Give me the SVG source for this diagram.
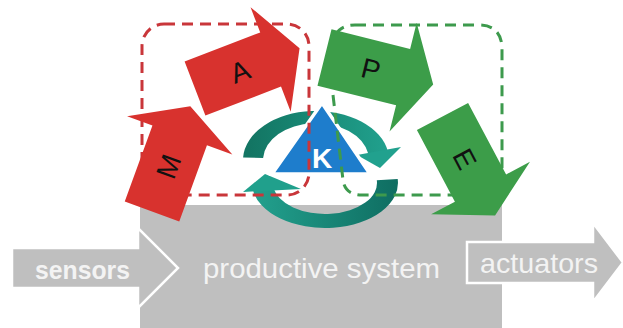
<svg xmlns="http://www.w3.org/2000/svg" width="623" height="328" viewBox="0 0 623 328">
<defs>
<style>
.box{fill:#bfbfbf}
.io{fill:#bfbfbf;stroke:#ffffff;stroke-width:2.5;stroke-linejoin:miter}
.iotxt{font-family:"Liberation Sans",Arial,sans-serif;fill:#f3f3f3}
.red{fill:#d8322e}
.green{fill:#3c9d49}
.lt{font-family:"Liberation Sans",Arial,sans-serif;font-size:28px;fill:#111111;text-anchor:middle}
.dash{fill:none;stroke-width:3;stroke-dasharray:11 7}
</style>
<path id="arr" d="M0,-29 H81 V-56 L112,0 L81,56 V29 H0 Z"/>
<linearGradient id="gU" gradientUnits="userSpaceOnUse" x1="250" y1="0" x2="395" y2="0">
<stop offset="0" stop-color="#137563"/><stop offset="0.45" stop-color="#188a76"/><stop offset="1" stop-color="#22a390"/>
</linearGradient>
<linearGradient id="gL" gradientUnits="userSpaceOnUse" x1="395" y1="0" x2="255" y2="0">
<stop offset="0" stop-color="#0f6e62"/><stop offset="1" stop-color="#22a08d"/>
</linearGradient>
</defs>

<g id="productive-system">
<rect class="box" x="140" y="205" width="362" height="123"/>
<text class="iotxt" x="203" y="278" font-size="28" textLength="237" lengthAdjust="spacingAndGlyphs">productive system</text>
</g>

<g id="sensors">
<polygon class="io" points="12,248 138,248 138,228 178,268 138,308 138,288 12,288"/>
<text class="iotxt" x="35" y="279" font-size="26" font-weight="bold" textLength="95" lengthAdjust="spacingAndGlyphs">sensors</text>
</g>

<g id="actuators">
<polygon class="io" points="467,242 593,242 593,223 623,262.5 593,302 593,283 467,283"/>
<text class="iotxt" x="480" y="273" font-size="28" textLength="118" lengthAdjust="spacingAndGlyphs">actuators</text>
</g>

<g id="knowledge">
<path d="M243.1,157.4 A73,49 0 0 1 387.9,151.5 L368.2,153.6 A53,37 0 0 0 263.1,158.1 Z" fill="url(#gU)"/>
<polygon points="401,147 380,168 357,155" fill="#21a18e"/>
<path d="M397.7,179.1 A73,45 0 0 1 252.7,189.3 L273.5,187.3 A52,31 0 0 0 376.8,180.3 Z" fill="url(#gL)"/>
<polygon points="243,192 265,174 301,189" fill="#20a08c"/>
<polygon points="322,103 370,174 272,174" fill="#1e7dcc" stroke="#ffffff" stroke-width="3.5"/>
<text x="322" y="168" font-family="'Liberation Sans',Arial,sans-serif" font-size="28" font-weight="bold" fill="#ffffff" text-anchor="middle">K</text>
</g>

<g id="connectors">
<rect class="dash" x="142" y="24" width="167" height="171" rx="22" stroke="#c9363a"/>
<path class="dash" d="M355,25 H478 Q502,25 502,49 V172 Q502,195 478,195 H362 Q345,195 343,180 L333,95 V48 Q333,25 355,25 Z" stroke="#3d9a4d"/>
</g>

<g id="monitor" transform="translate(152,211.5) rotate(-70)">
<use href="#arr" class="red"/>
<text class="lt" x="48" y="10">M</text>
</g>
<g id="analyze" transform="translate(195,88.5) rotate(-21)">
<use href="#arr" class="red"/>
<text class="lt" x="48" y="10">A</text>
</g>
<g id="plan" transform="translate(324.5,57.5) rotate(14)">
<use href="#arr" class="green"/>
<text class="lt" x="48" y="10">P</text>
</g>
<g id="execute" transform="translate(442.5,116.5) rotate(62)">
<use href="#arr" class="green"/>
<text class="lt" x="48" y="10">E</text>
</g>
</svg>
